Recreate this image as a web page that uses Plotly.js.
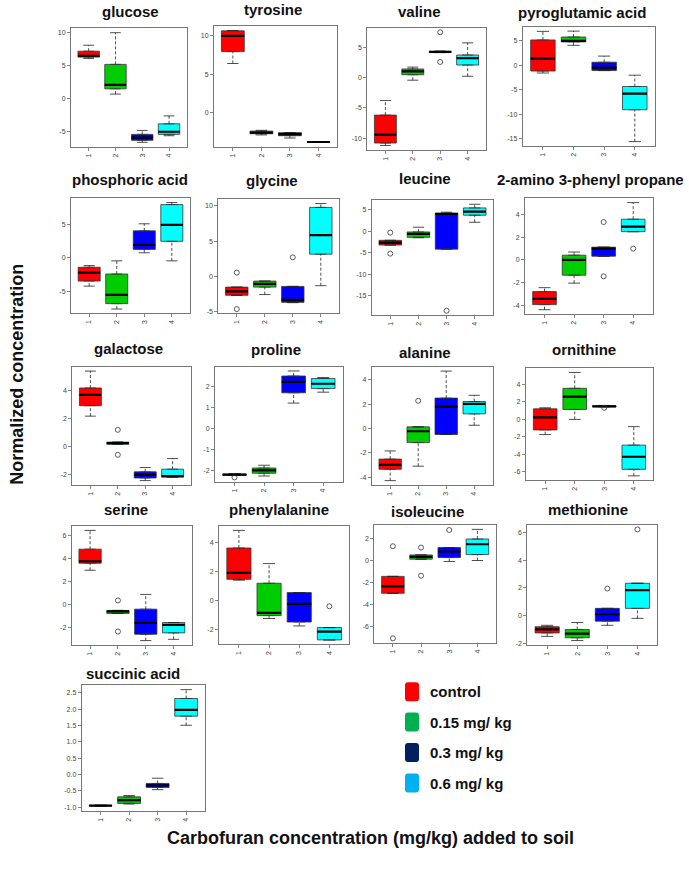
<!DOCTYPE html>
<html><head><meta charset="utf-8">
<script src="https://cdn.plot.ly/plotly-3.0.1.min.js"></script>
<style>html,body{margin:0;padding:0;background:#fff}</style>
</head><body><div id="chart" style="width:689px;height:871px"></div>
<script>
// ---------------- DATA ----------------
const metabolites = ["glucose","tyrosine","valine","pyroglutamic acid","phosphoric acid","glycine","leucine","2-amino 3-phenyl propane","galactose","proline","alanine","ornithine","serine","phenylalanine","isoleucine","methionine","succinic acid"];
const groupTicks = ["1","2","3","4"];
const legendLabels = ["control","0.15 mg/ kg","0.3 mg/ kg","0.6 mg/ kg"];

const lowerWhisker = [
 [6.1, 0.7, -6.6, -5.6],
 [6.4, -2.9, -3.3, -3.85],
 [-11.2, -0.45, 4.1, 0.2],
 [-1.6, 4.05, -1.1, -15.6],
 [-4.2, -7.6, 0.75, -0.45],
 [-2.65, -2.55, -3.7, -1.3],
 [-3.2, -1.5, -4.15, 2.1],
 [-4.4, -2.05, 0.33, 2.5],
 [2.15, 0.14, -2.47, -2.23],
 [-2.24, -2.26, 1.21, 1.73],
 [-4.26, -3.08, -0.49, 0.27],
 [-1.74, 0.0, 1.45, -6.47],
 [2.97, -0.78, -3.14, -3.03],
 [1.4, -1.23, -1.74, -2.7],
 [-2.99, 0.12, -0.09, 0.0],
 [-1.5, -1.8, -0.7, -0.2],
 [-0.97, -0.9, -0.46, 1.51]];
const quartile1 = [
 [6.3, 1.5, -6.3, -5.4],
 [7.95, -2.75, -3.0, -3.85],
 [-10.8, 0.45, 4.1, 2.05],
 [-1.2, 4.75, -1.1, -9.1],
 [-3.45, -6.8, 1.25, 2.45],
 [-2.65, -1.5, -3.65, 3.15],
 [-3.2, -1.4, -4.15, 3.75],
 [-3.95, -1.35, 0.33, 2.5],
 [2.9, 0.14, -2.28, -2.23],
 [-2.22, -2.13, 1.7, 1.9],
 [-3.33, -1.15, -0.49, 1.2],
 [-1.21, 1.14, 1.45, -5.72],
 [3.58, -0.78, -2.59, -2.47],
 [1.46, -1.03, -1.47, -2.7],
 [-2.99, 0.12, 0.27, 0.54],
 [-1.25, -1.6, -0.4, 0.52],
 [-0.96, -0.88, -0.39, 1.79]];
const medians = [
 [6.5, 2.1, -5.9, -5.0],
 [10.0, -2.6, -2.8, -3.82],
 [-9.4, 1.0, 4.2, 3.2],
 [1.35, 4.95, -0.5, -5.8],
 [-2.2, -5.5, 1.9, 4.9],
 [-2.1, -1.05, -3.3, 5.85],
 [-2.65, -0.6, 4.05, 4.6],
 [-3.45, 0.0, 1.0, 2.95],
 [3.67, 0.21, -2.05, -2.14],
 [-2.2, -1.99, 2.22, 2.13],
 [-2.97, -0.22, 1.8, 2.02],
 [0.23, 2.61, 1.5, -4.28],
 [3.75, -0.6, -1.6, -1.78],
 [1.9, -0.85, -0.23, -2.13],
 [-2.36, 0.33, 0.82, 1.48],
 [-1.0, -1.3, 0.1, 1.83],
 [-0.95, -0.78, -0.33, 1.98]];
const quartile3 = [
 [7.2, 5.2, -5.4, -3.8],
 [10.65, -2.4, -2.6, -3.8],
 [-6.2, 1.4, 4.3, 3.7],
 [5.15, 5.75, 0.6, -4.35],
 [-1.4, -2.4, 4.0, 7.9],
 [-1.5, -0.65, -1.4, 9.75],
 [-2.1, -0.15, 4.2, 5.45],
 [-2.8, 0.42, 1.13, 3.6],
 [4.17, 0.29, -1.84, -1.65],
 [-2.17, -1.88, 2.5, 2.38],
 [-2.5, 0.14, 2.49, 2.21],
 [1.21, 3.56, 1.55, -2.95],
 [4.8, -0.52, -0.41, -1.57],
 [3.61, 1.19, 0.55, -1.85],
 [-1.45, 0.51, 1.18, 1.96],
 [-0.8, -1.0, 0.52, 2.33],
 [-0.94, -0.68, -0.27, 2.33]];
const upperWhisker = [
 [8.1, 10.0, -4.8, -2.6],
 [10.7, -2.3, -2.6, -3.8],
 [-3.8, 1.7, 4.35, 5.7],
 [6.9, 6.95, 1.85, -2.05],
 [-1.15, -0.45, 5.05, 8.2],
 [-1.5, -0.65, -1.4, 10.3],
 [-2.1, 0.95, 4.45, 6.3],
 [-2.45, 0.7, 1.13, 5.07],
 [5.38, 0.29, -1.53, -0.89],
 [-2.15, -1.75, 2.74, 2.43],
 [-1.83, 0.14, 4.7, 2.72],
 [1.33, 5.38, 1.6, -0.83],
 [6.43, -0.52, 0.87, -1.57],
 [4.82, 2.54, 0.55, -1.85],
 [-1.45, 0.51, 1.18, 2.84],
 [-0.7, -0.5, 0.52, 2.33],
 [-0.93, -0.64, -0.11, 2.6]];
const outlierGroups = [[],[],[3,3],[],[],[1,1,3],[1,1,3],[3,3,4],[2,2],[1],[2],[3],[2,2],[4],[1,1,2,2,3],[3,4],[]];
const outlierValues = [[],[],[7.45,2.55],[],[],[0.55,-4.6,2.7],[-0.3,-5.2,-18.5],[3.35,-1.45,1.0],[1.17,-0.62],[-2.33],[2.27],[1.33],[0.35,-2.35],[-0.39],[1.3,-7.1,1.18,-1.39,2.78],[1.95,6.21],[]];
const yTickValues = [
 [-5,0,5,10],[0,5,10],[-10,-5,0,5],[-15,-10,-5,0,5],
 [-5,0,5],[-5,0,5,10],[-15,-10,-5,0,5],[-4,-2,0,2,4],
 [-2,0,2,4],[-2,-1,0,1,2],[-4,-2,0,2,4],[-6,-4,-2,0,2,4],
 [-2,0,2,4,6],[-2,0,2,4],[-6,-4,-2,0,2],[-2,0,2,4,6],
 [-1,-0.5,0,0.5,1,1.5,2,2.5]];
const yTickLabels = [
 null,null,null,null,null,null,null,null,null,null,null,null,null,null,null,null,
 ["-1.0","-0.5","0.0","0.5","1.0","1.5","2.0","2.5"]];

// ---------------- STYLE / LAYOUT ----------------
const W = 689, H = 871;
const boxColors = ["#FF0000","#00CD00","#0000FF","#00FFFF"];
const legendColors = ["#FF0000","#00B050","#002060","#00B0F0"];
// panel frames in px: [left, right, top, bottom]
const frames = [
 [71,186.7,28.3,146.7],[214,337.3,26,146.7],[367.3,485.7,27.7,150],[522.7,655,26.7,146],
 [71,190,198.3,313.3],[218.3,339.3,199.3,313.3],[371.7,493.3,200,315],[525,652.7,198.3,314],
 [72.3,190.7,366.7,485],[215,342.7,366.7,481.7],[371.7,492.7,366.7,485],[525.7,653.3,368.3,480],
 [71.7,192,526,645],[219,349.3,526,644.3],[374.3,496,525,642.7],[527.3,657.3,525,645],
 [81.7,205,685,811]];
const titlePos = [
 [130,11.7],[273.3,9.3],[420,11.7],[581.7,12.7],
 [130,180],[271.7,181],[425,178.3],[590,180],
 [128.3,348.3],[276,350],[425,352.7],[584,350],
 [125.7,510],[279.3,510],[427.3,511.7],[587.7,509.3],
 [133.3,673.3]];
const legendY = [691.7,722,752.5,783];
const FONT = "Liberation Sans, Arial, sans-serif";

const traces = [];
const layout = {
  width: W, height: H, margin: {l:0,r:0,t:0,b:0},
  paper_bgcolor: "#fff", plot_bgcolor: "#fff",
  showlegend: false, font: {family: FONT},
  annotations: [], shapes: []
};

metabolites.forEach((name, p) => {
  const n = p + 1;
  const xs = n === 1 ? "x" : "x" + n;
  const ys = n === 1 ? "y" : "y" + n;
  const xk = n === 1 ? "xaxis" : "xaxis" + n;
  const yk = n === 1 ? "yaxis" : "yaxis" + n;
  const [fl, fr, ft, fb] = frames[p];

  const wx = [], wy = [], cx = [], cy = [], mx = [], my = [];
  for (let g = 0; g < 4; g++) {
    const k = g + 1;
    traces.push({
      type: "box", x: [k], xaxis: xs, yaxis: ys,
      q1: [quartile1[p][g]], median: [medians[p][g]], q3: [quartile3[p][g]],
      lowerfence: [quartile1[p][g]], upperfence: [quartile3[p][g]],
      width: 0.8, boxpoints: false, fillcolor: boxColors[g],
      line: {color: "#333", width: 0.8}, hoverinfo: "skip"
    });
    wx.push(k, k, null, k, k, null);
    wy.push(lowerWhisker[p][g], quartile1[p][g], null, quartile3[p][g], upperWhisker[p][g], null);
    cx.push(k - 0.2, k + 0.2, null, k - 0.2, k + 0.2, null);
    cy.push(lowerWhisker[p][g], lowerWhisker[p][g], null, upperWhisker[p][g], upperWhisker[p][g], null);
    mx.push(k - 0.4, k + 0.4, null);
    my.push(medians[p][g], medians[p][g], null);
  }
  traces.push({type:"scatter", mode:"lines", x: wx, y: wy, xaxis: xs, yaxis: ys,
    line:{color:"#222", width:0.8, dash:"3px,2px"}, hoverinfo:"skip", connectgaps:false});
  traces.push({type:"scatter", mode:"lines", x: cx, y: cy, xaxis: xs, yaxis: ys,
    line:{color:"#222", width:0.8}, hoverinfo:"skip", connectgaps:false});
  traces.push({type:"scatter", mode:"lines", x: mx, y: my, xaxis: xs, yaxis: ys,
    line:{color:"#000", width:2.2}, hoverinfo:"skip", connectgaps:false});
  if (outlierValues[p].length) {
    traces.push({type:"scatter", mode:"markers", x: outlierGroups[p], y: outlierValues[p],
      xaxis: xs, yaxis: ys, hoverinfo:"skip",
      marker:{symbol:"circle-open", size:5, color:"#333", line:{width:0.8}}});
  }

  const all = lowerWhisker[p].concat(upperWhisker[p], outlierValues[p]);
  const lo = Math.min(...all), hi = Math.max(...all);
  const pad = 0.04 * (hi - lo);

  layout[xk] = {
    domain: [fl / W, fr / W], anchor: ys, range: [0.34, 4.66],
    tickvals: [1,2,3,4], ticktext: groupTicks, tickangle: -90,
    ticks: "outside", ticklen: 3, tickcolor: "#666", tickwidth: 0.8,
    showline: true, mirror: true, linecolor: "#777", linewidth: 1,
    showgrid: false, zeroline: false, fixedrange: true,
    tickfont: {size: 7, color: "#444", family: FONT}
  };
  layout[yk] = {
    domain: [1 - fb / H, 1 - ft / H], anchor: xs, range: [lo - pad, hi + pad],
    tickvals: yTickValues[p], ticktext: yTickLabels[p] || yTickValues[p].map(String),
    ticks: "outside", ticklen: 3, tickcolor: "#666", tickwidth: 0.8,
    showline: true, mirror: true, linecolor: "#777", linewidth: 1,
    showgrid: false, zeroline: false, fixedrange: true,
    tickfont: {size: 7, color: "#444", family: FONT}
  };
  layout.annotations.push({
    text: name, xref: "paper", yref: "paper", showarrow: false,
    x: titlePos[p][0] / W, y: 1 - titlePos[p][1] / H, xanchor: "center", yanchor: "middle",
    font: {size: 15, color: "#111", family: FONT, weight: 700}
  });
});

// legend (drawn manually as in the reference)
legendLabels.forEach((lab, i) => {
  const x0 = 405 / W, x1 = 419 / W;
  const y0 = 1 - (legendY[i] + 9.5) / H, y1 = 1 - (legendY[i] - 9.5) / H;
  const rx = 3 / W, ry = 3 / H;
  const path = `M ${x0+rx},${y0} L ${x1-rx},${y0} Q ${x1},${y0} ${x1},${y0+ry} L ${x1},${y1-ry} Q ${x1},${y1} ${x1-rx},${y1} L ${x0+rx},${y1} Q ${x0},${y1} ${x0},${y1-ry} L ${x0},${y0+ry} Q ${x0},${y0} ${x0+rx},${y0} Z`;
  layout.shapes.push({type:"path", xref:"paper", yref:"paper", path: path,
    fillcolor: legendColors[i], line:{width:0}});
  layout.annotations.push({text: lab, xref:"paper", yref:"paper", showarrow:false,
    x: 428 / W, y: 1 - legendY[i] / H, xanchor:"left", yanchor:"middle",
    font:{size:15, color:"#111", family: FONT, weight:700}});
});

layout.annotations.push({text:"Normalized concentration", xref:"paper", yref:"paper", showarrow:false,
  x: 16.7 / W, y: 1 - 374 / H, textangle: -90, xanchor:"center", yanchor:"middle",
  font:{size:18, color:"#111", family: FONT, weight:700}});
layout.annotations.push({text:"Carbofuran concentration (mg/kg) added to soil", xref:"paper", yref:"paper", showarrow:false,
  x: 370 / W, y: 1 - 838 / H, xanchor:"center", yanchor:"middle",
  font:{size:18, color:"#111", family: FONT, weight:700}});

Plotly.newPlot("chart", traces, layout, {displayModeBar:false, staticPlot:true});
</script>
</body></html>
